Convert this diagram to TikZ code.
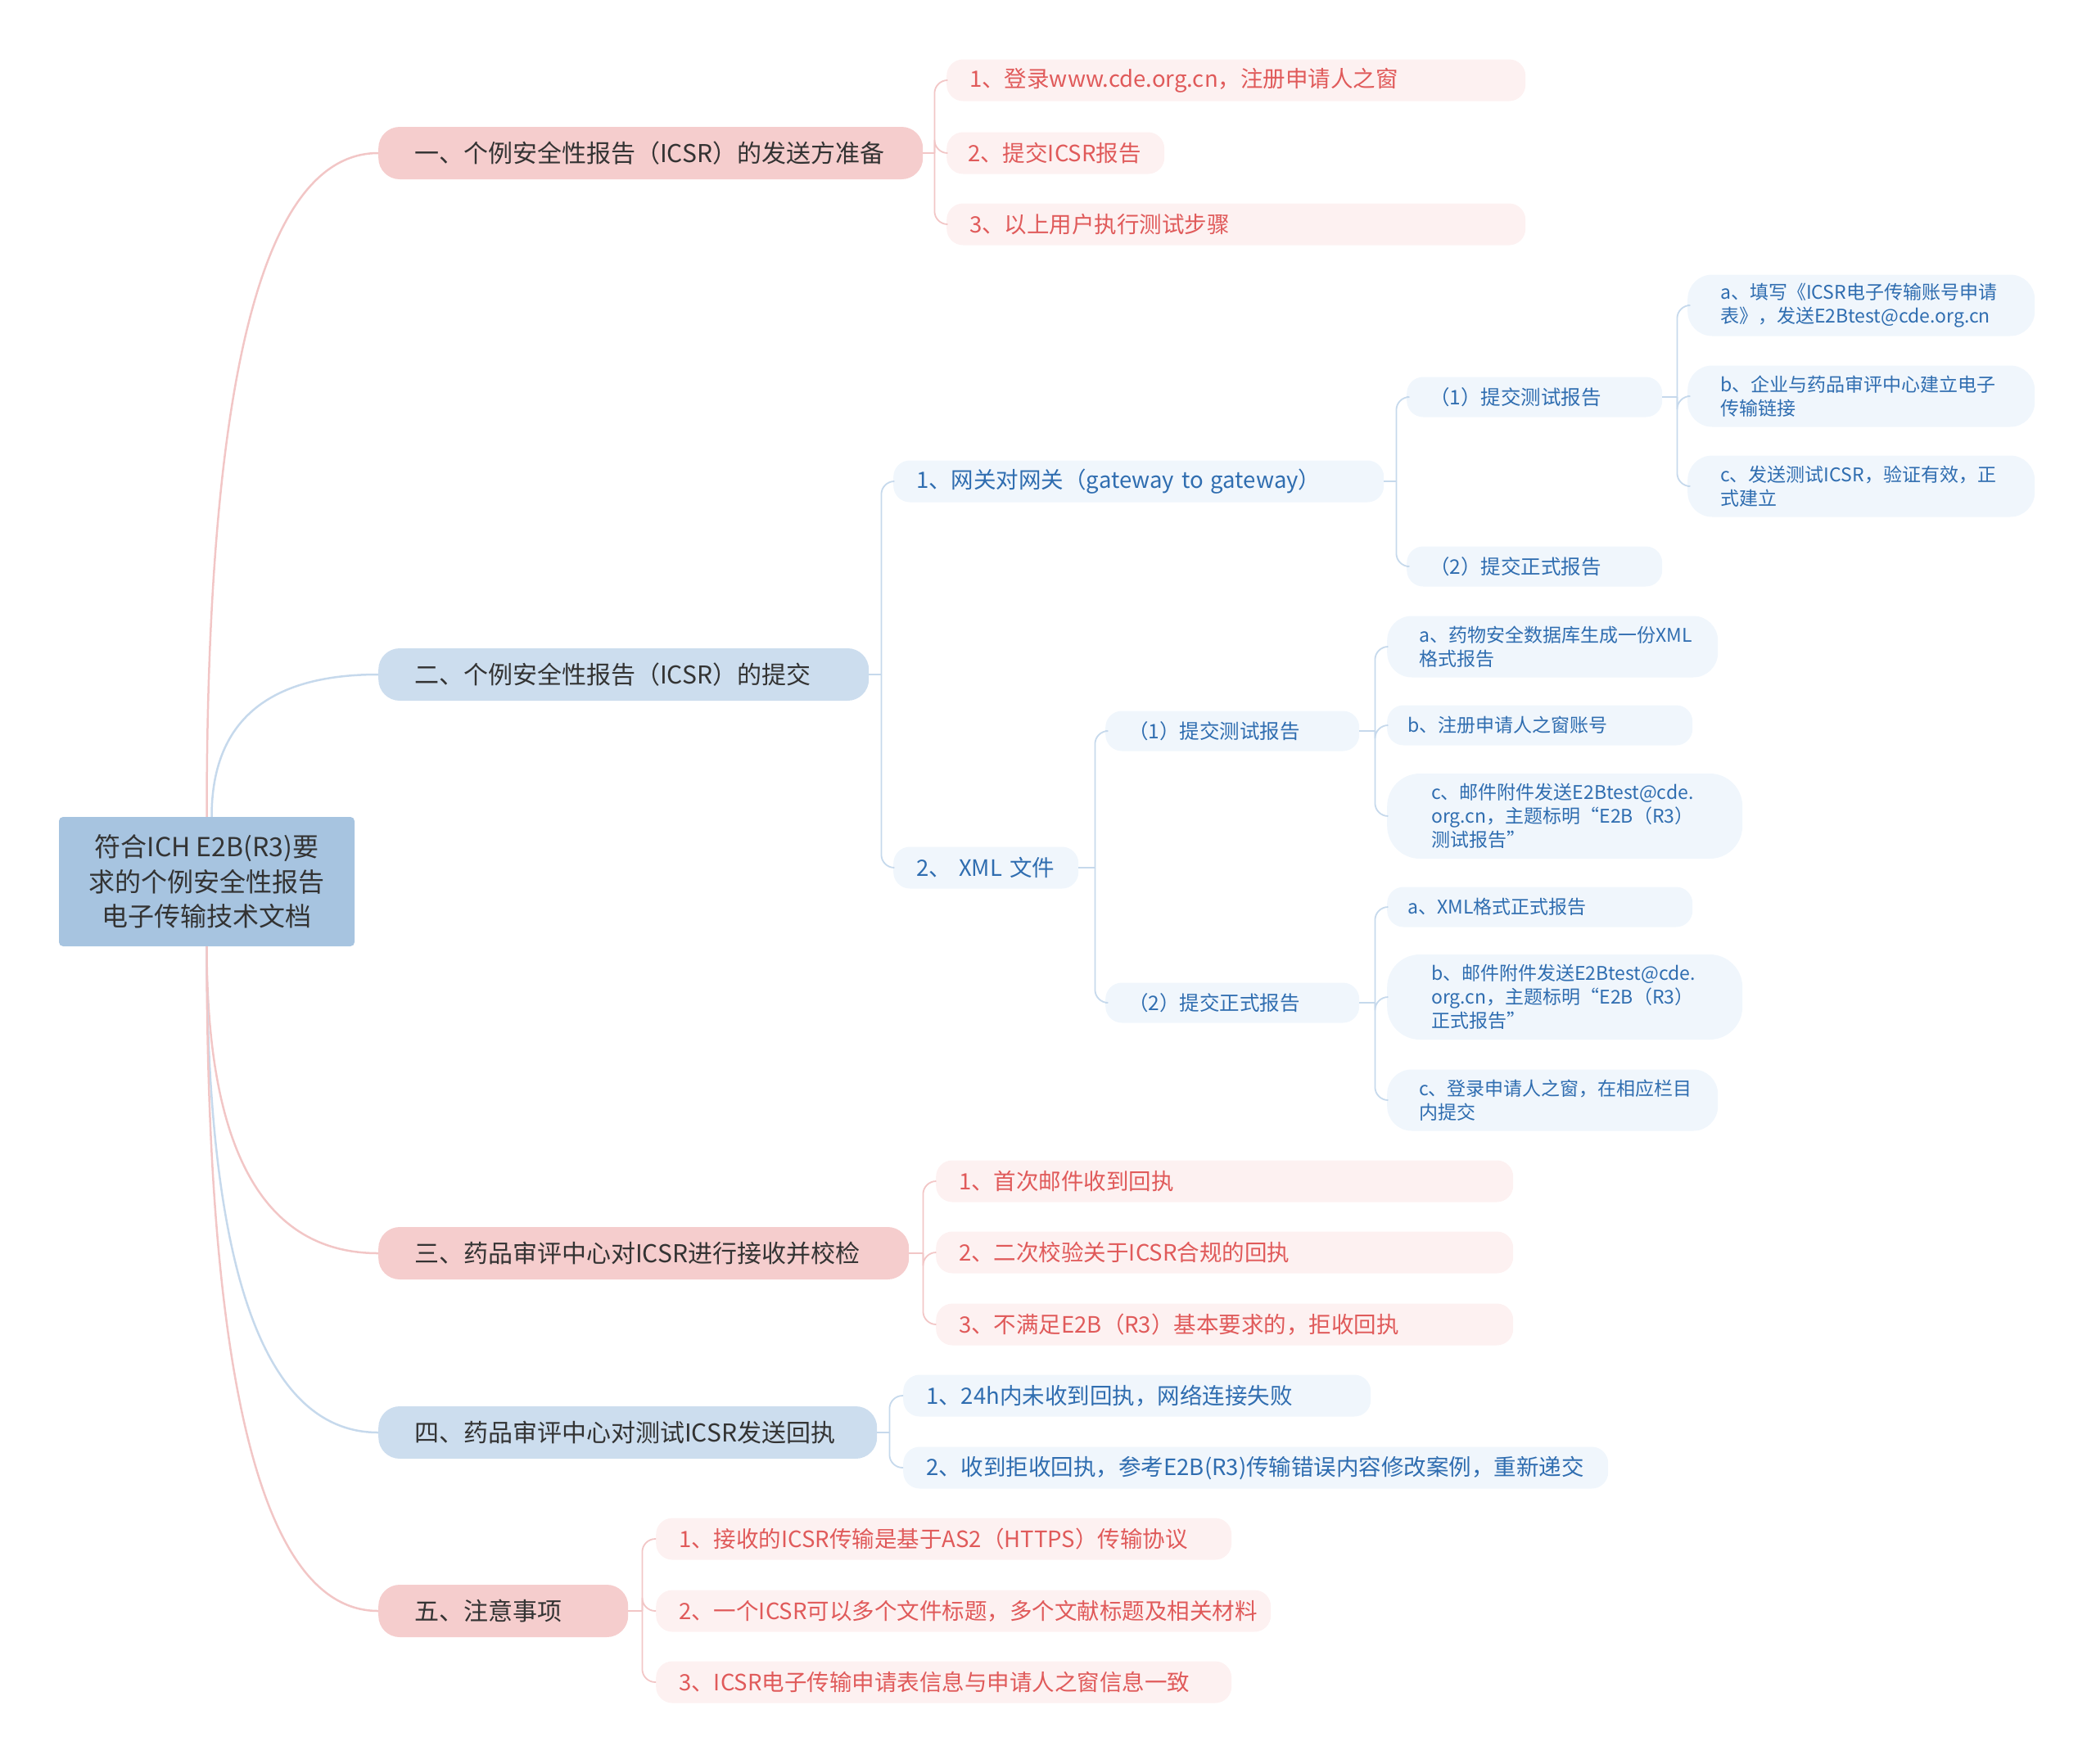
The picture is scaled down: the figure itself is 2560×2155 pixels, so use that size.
\documentclass[tikz,border=0pt]{standalone}
\usepackage{fontspec}
\setmainfont{Noto Sans CJK SC}
\usetikzlibrary{calc}
\definecolor{rootfill}{HTML}{A7C4E0}
\definecolor{pinkA}{HTML}{F5CDCD}
\definecolor{blueA}{HTML}{CCDDEE}
\definecolor{pinkB}{HTML}{FDF1F1}
\definecolor{blueB}{HTML}{F0F6FC}
\definecolor{redtext}{HTML}{E05A5A}
\definecolor{bluetext}{HTML}{2F6DB0}
\definecolor{textdark}{HTML}{333333}
\definecolor{pinkline}{HTML}{F2C6C6}
\definecolor{blueline}{HTML}{C6D9EC}

\tikzset{
  rootbox/.style={fill=rootfill, text=textdark, rounded corners=5pt, align=center,
    minimum width=361pt, minimum height=158pt, font=\fontsize{32}{42.5}\selectfont},
  topicp/.style={fill=pinkA, text=textdark, rounded corners=26pt, anchor=west, align=left,
    minimum height=64pt, inner xsep=44pt, text width=#1, font=\fontsize{30}{36}\selectfont},
  topicb/.style={topicp=#1, fill=blueA},
  subp/.style={fill=pinkB, text=redtext, rounded corners=20pt, anchor=west, align=left,
    minimum height=51pt, inner xsep=28pt, text width=#1, font=\fontsize{27.5}{34}\selectfont},
  subb/.style={subp=#1, fill=blueB, text=bluetext},
  leaf/.style={fill=blueB, text=bluetext, rounded corners=20pt, anchor=west, align=left,
    minimum height=49pt, inner xsep=28pt, text width=#1, font=\fontsize{23}{29}\selectfont},
  midleaf/.style={leaf=#1, font=\fontsize{24.5}{30}\selectfont},
  leaftwo/.style={leaf=#1, minimum height=75pt, rounded corners=30pt},
  leafthree/.style={leaf=#1, minimum height=104pt, rounded corners=40pt},
  mainpink/.style={draw=pinkline, line width=2.5pt},
  mainblue/.style={draw=blueline, line width=2.5pt},
  linkpink/.style={draw=pinkline, line width=1.8pt, rounded corners=16pt},
  linkblue/.style={draw=blueline, line width=1.8pt, rounded corners=16pt},
}

\begin{document}
\begin{tikzpicture}[x=1pt, y=-1pt]
  \useasboundingbox (0,0) rectangle (2560,2155);

  % root
  \node[rootbox] (root) at (252.5,1077) {符合ICH E2B(R3)要\\求的个例安全性报告\\电子传输技术文档};

  % main topics
  \node[topicp=577pt] (t1) at (462,187) {一、个例安全性报告（ICSR）的发送方准备};
  \node[topicb=511pt] (t2) at (462,824) {二、个例安全性报告（ICSR）的提交};
  \node[topicp=560pt] (t3) at (462,1531) {三、药品审评中心对ICSR进行接收并校检};
  \node[topicb=521pt] (t4) at (462,1750) {四、药品审评中心对测试ICSR发送回执};
  \node[topicp=217pt] (t5) at (462,1968) {五、注意事项};

  % branch one
  \node[subp=651pt] (a1) at (1156,98) {1、登录www.cde.org.cn，注册申请人之窗};
  \node[subp=214pt, inner xsep=26pt] (a2) at (1156,187) {2、提交ICSR报告};
  \node[subp=651pt] (a3) at (1156,274) {3、以上用户执行测试步骤};

  % branch two
  \node[subb=543pt] (b1) at (1091,588) {1、网关对网关（gateway to gateway）};
  \node[subb=170pt] (b2) at (1091,1060) {2、 XML 文件};

  \node[midleaf=256pt] (c1) at (1718,485) {（1）提交测试报告};
  \node[midleaf=256pt] (c2) at (1718,692) {（2）提交正式报告};
  \node[leaftwo=344pt, inner xsep=40pt] (e1) at (2061,373) {a、填写《ICSR电子传输账号申请\\表》，发送E2Btest@cde.org.cn};
  \node[leaftwo=344pt, inner xsep=40pt] (e2) at (2061,484) {b、企业与药品审评中心建立电子\\传输链接};
  \node[leaftwo=344pt, inner xsep=40pt] (e3) at (2061,594) {c、发送测试ICSR，验证有效，正\\式建立};

  \node[midleaf=254pt] (d1) at (1350,893) {（1）提交测试报告};
  \node[midleaf=254pt] (d2) at (1350,1225) {（2）提交正式报告};
  \node[leaftwo=326pt, inner xsep=39pt] (f1) at (1694,790) {a、药物安全数据库生成一份XML\\格式报告};
  \node[leaf=323pt, inner xsep=25pt] (f2) at (1694,886) {b、注册申请人之窗账号};
  \node[leafthree=326pt, inner xsep=54pt] (f3) at (1694,997) {c、邮件附件发送E2Btest@cde.\\org.cn，主题标明“E2B（R3）\\测试报告”};
  \node[leaf=323pt, inner xsep=25pt] (g1) at (1694,1108) {a、XML格式正式报告};
  \node[leafthree=326pt, inner xsep=54pt] (g2) at (1694,1218) {b、邮件附件发送E2Btest@cde.\\org.cn，主题标明“E2B（R3）\\正式报告”};
  \node[leaftwo=326pt, inner xsep=39pt] (g3) at (1694,1344) {c、登录申请人之窗，在相应栏目\\内提交};

  % branch three
  \node[subp=649pt] (h1) at (1143,1443) {1、首次邮件收到回执};
  \node[subp=649pt] (h2) at (1143,1530) {2、二次校验关于ICSR合规的回执};
  \node[subp=649pt] (h3) at (1143,1618) {3、不满足E2B（R3）基本要求的，拒收回执};

  % branch four
  \node[subb=515pt] (i1) at (1103,1705) {1、24h内未收到回执，网络连接失败};
  \node[subb=805pt] (i2) at (1103,1793) {2、收到拒收回执，参考E2B(R3)传输错误内容修改案例，重新递交};

  % branch five
  \node[subp=647pt] (j1) at (801,1880) {1、接收的ICSR传输是基于AS2（HTTPS）传输协议};
  \node[subp=695pt] (j2) at (801,1968) {2、一个ICSR可以多个文件标题，多个文献标题及相关材料};
  \node[subp=647pt] (j3) at (801,2055) {3、ICSR电子传输申请表信息与申请人之窗信息一致};

  % root curves
  \coordinate (rtop) at ([xshift=6pt]root.north);
  \draw[mainpink] (root.north) .. controls ($(root.north)!0.667!(root.north |- t1.west)$) and ($(t1.west)!0.667!(root.north |- t1.west)$) .. (t1.west);
  \draw[mainblue] (rtop) .. controls ($(rtop)!0.667!(rtop |- t2.west)$) and ($(t2.west)!0.667!(rtop |- t2.west)$) .. (t2.west);
  \draw[mainpink] (root.south) .. controls ($(root.south)!0.667!(root.south |- t3.west)$) and ($(t3.west)!0.667!(root.south |- t3.west)$) .. (t3.west);
  \draw[mainblue] (root.south) .. controls ($(root.south)!0.667!(root.south |- t4.west)$) and ($(t4.west)!0.667!(root.south |- t4.west)$) .. (t4.west);
  \draw[mainpink] (root.south) .. controls ($(root.south)!0.667!(root.south |- t5.west)$) and ($(t5.west)!0.667!(root.south |- t5.west)$) .. (t5.west);

  % brackets
  \draw[linkpink] (t1.east) -- ++(14,0) coordinate (t1s);
  \foreach \c in {a1,a2,a3} \draw[linkpink] (t1s) |- (\c.west);

  \draw[linkblue] (t2.east) -- ++(15,0) coordinate (t2s);
  \foreach \c in {b1,b2} \draw[linkblue] (t2s) |- (\c.west);

  \draw[linkblue] (b1.east) -- ++(15,0) coordinate (b1s);
  \foreach \c in {c1,c2} \draw[linkblue] (b1s) |- (\c.west);

  \draw[linkblue] (b2.east) -- ++(20,0) coordinate (b2s);
  \foreach \c in {d1,d2} \draw[linkblue] (b2s) |- (\c.west);

  \draw[linkblue] (c1.east) -- ++(18,0) coordinate (c1s);
  \foreach \c in {e1,e2,e3} \draw[linkblue] (c1s) |- (\c.west);

  \draw[linkblue] (d1.east) -- ++(19,0) coordinate (d1s);
  \foreach \c in {f1,f2,f3} \draw[linkblue] (d1s) |- (\c.west);

  \draw[linkblue] (d2.east) -- ++(19,0) coordinate (d2s);
  \foreach \c in {g1,g2,g3} \draw[linkblue] (d2s) |- (\c.west);

  \draw[linkpink] (t3.east) -- ++(17,0) coordinate (t3s);
  \foreach \c in {h1,h2,h3} \draw[linkpink] (t3s) |- (\c.west);

  \draw[linkblue] (t4.east) -- ++(15,0) coordinate (t4s);
  \foreach \c in {i1,i2} \draw[linkblue] (t4s) |- (\c.west);

  \draw[linkpink] (t5.east) -- ++(17,0) coordinate (t5s);
  \foreach \c in {j1,j2,j3} \draw[linkpink] (t5s) |- (\c.west);
\end{tikzpicture}
\end{document}
